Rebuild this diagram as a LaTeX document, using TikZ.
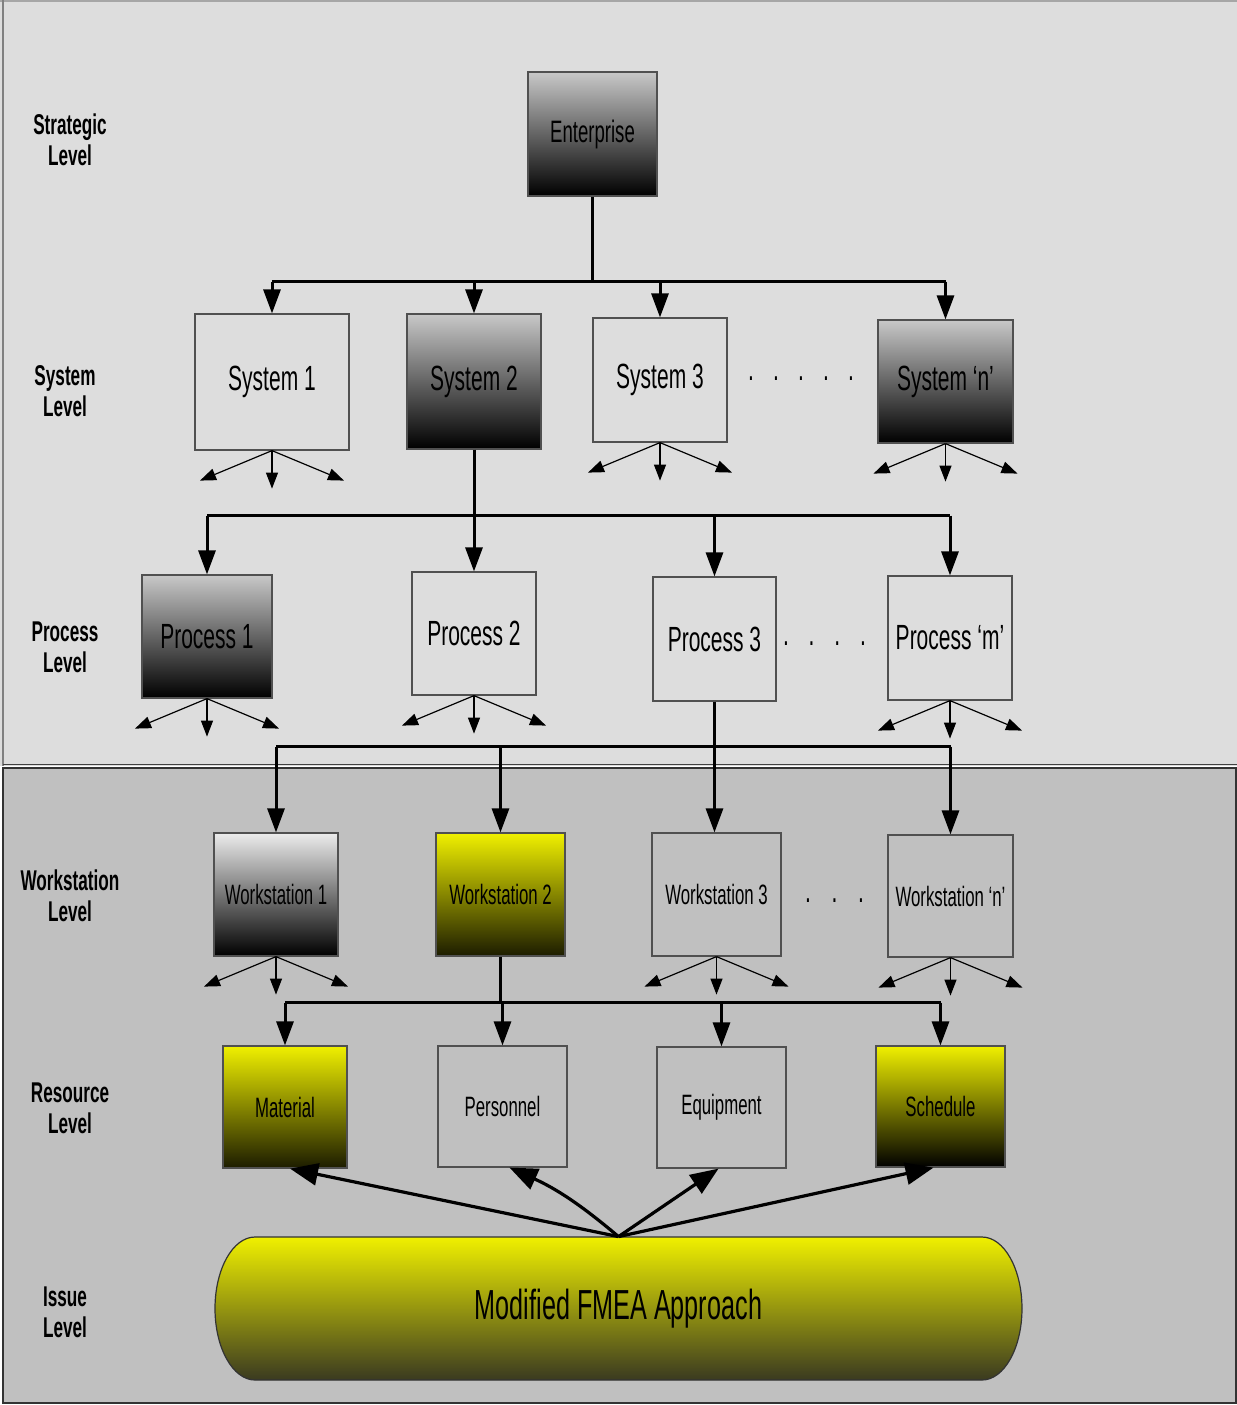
\documentclass[tikz,border=0pt]{standalone}
\usepackage{fontspec}
\setmainfont{Liberation Sans}[FakeStretch=0.6]
\usetikzlibrary{arrows.meta,calc}
\definecolor{bgup}{HTML}{DDDDDD}
\definecolor{bglow}{HTML}{C0C0C0}
\definecolor{bord}{HTML}{505050}
\definecolor{yel}{HTML}{F0F000}
\definecolor{ydark}{HTML}{1C1C00}
\definecolor{gtop}{HTML}{C8C8C8}
\definecolor{fbot}{HTML}{3A3A20}
\newcommand\dd[1]{\makebox[#1]{.}}
\begin{document}
\begin{tikzpicture}[x=0.5pt,y=-0.5pt,
 box/.style={draw=bord, line width=0.6pt, inner sep=0pt, align=center},
 graybox/.style={box, top color=gtop, bottom color=black},
 yelbox/.style={box, top color=yel, bottom color=ydark},
 big/.style={font=\fontsize{17.5}{20}\selectfont},
 med/.style={font=\fontsize{15.5}{18}\selectfont},
 small/.style={font=\fontsize{14}{16}\selectfont},
 lvl/.style={align=center, font=\bfseries\fontsize{14.3}{15.5}\selectfont},
 link/.style={line width=1.5pt},
 arr/.style={link, -{Triangle[length=12pt,width=8.5pt]}},
 fan/.style={line width=0.6pt, -{Triangle[length=8pt,width=6pt]}},
 bigarr/.style={line width=1.6pt, -{Triangle[length=14pt,width=11pt]}},
]
\useasboundingbox (0,0) rectangle (1237,1405);
% panels
\fill[bgup] (0,0) rectangle (1237,766);
\draw[gray!70, line width=0.6pt] (0,1) -- (1237,1);
\draw[gray, line width=1pt] (3,0) -- (3,766);
\draw[black!75, line width=0.6pt] (3,764.5) -- (1237,764.5);
\draw[fill=bglow, draw=black!80, line width=0.8pt] (3,768) rectangle (1236,1403);

% level labels
\node[lvl] (lv1) at (70,140) {Strategic\\Level};
\node[lvl] (lv2) at (65,391) {System\\Level};
\node[lvl] (lv3) at (65,647) {Process\\Level};
\node[lvl] (lv4) at (70,896) {Workstation\\Level};
\node[lvl] (lv5) at (70,1108) {Resource\\Level};
\node[lvl] (lv6) at (65,1312) {Issue\\Level};

% strategic
\node[graybox, med, minimum width=64.5pt, minimum height=62pt] (ent) at (592.5,134) {Enterprise};
% systems
\node[box, big, minimum width=77pt, minimum height=68pt] (s1) at (272,382) {System 1};
\node[graybox, big, minimum width=67pt, minimum height=67.5pt] (s2) at (474,381.5) {System 2};
\node[box, big, minimum width=67pt, minimum height=62pt] (s3) at (660,380) {System 3};
\node[graybox, big, minimum width=67.5pt, minimum height=61.5pt] (sn) at (945.5,381.5) {System `n'};
\node[big, anchor=base, inner sep=0pt] (d1) at (801,380) {\dd{12.5pt}\dd{12.5pt}\dd{12.5pt}\dd{12.5pt}\dd{12.5pt}};
% processes
\node[graybox, big, minimum width=65pt, minimum height=61.5pt] (p1) at (207,636.5) {Process 1};
\node[box, big, minimum width=62pt, minimum height=61.5pt] (p2) at (474,633.5) {Process 2};
\node[box, big, minimum width=61.5pt, minimum height=62pt] (p3) at (714.5,639) {Process 3};
\node[box, big, minimum width=62pt, minimum height=62pt] (pm) at (950,638) {Process `m'};
\node[big, anchor=base, inner sep=0pt] (d2) at (824.5,645) {\dd{12.85pt}\dd{12.85pt}\dd{12.85pt}\dd{12.85pt}};
% workstations
\node[graybox, small, top color=gray!15, minimum width=62pt, minimum height=61.5pt] (w1) at (276,894.5) {Workstation 1};
\node[yelbox, small, minimum width=64.5pt, minimum height=61.5pt] (w2) at (500.5,894.5) {Workstation 2};
\node[box, small, minimum width=64.5pt, minimum height=61.5pt] (w3) at (716.5,894.5) {Workstation 3};
\node[box, small, minimum width=62.5pt, minimum height=61pt] (wn) at (950.5,896) {Workstation `n'};
\node[big, anchor=base, inner sep=0pt] (d3) at (834.5,902) {\dd{13.25pt}\dd{13.25pt}\dd{13.25pt}};
% resources
\node[yelbox, small, minimum width=62pt, minimum height=61pt] (mat) at (285,1107) {Material};
\node[box, small, minimum width=64.5pt, minimum height=60.5pt] (per) at (502.5,1106.5) {Personnel};
\node[box, small, minimum width=64.5pt, minimum height=60.5pt] (equ) at (721.5,1107.5) {Equipment};
\node[box, small, top color=yel, bottom color=black, minimum width=64.5pt, minimum height=60.5pt] (sch) at (940.5,1106.5) {Schedule};

% issue level
\path[draw=black!80, line width=0.6pt, top color=yel, bottom color=fbot]
  (255,1237) -- (982,1237) arc[start angle=-90, end angle=90, x radius=40, y radius=71.5]
  -- (255,1380) arc[start angle=90, end angle=270, x radius=40, y radius=71.5] -- cycle;
\node[minimum width=403.5pt, minimum height=71.5pt, inner sep=0pt, font=\fontsize{21}{24}\selectfont] (fmea) at (618.5,1308.5) {Modified FMEA Approach};

% connectors: enterprise -> systems
\draw[link] (ent.south) -- ++(0,85) coordinate (e1);
\draw[link] (s1.north |- e1) -- (sn.north |- e1);
\foreach \n in {s1,s2,s3,sn} \draw[arr] (\n.north |- e1) -- (\n.north);
% system 2 -> processes
\draw[link] (s2.south) -- ++(0,66) coordinate (e2);
\draw[link] (p1.north |- e2) -- (pm.north |- e2);
\foreach \n in {p1,p2,p3,pm} \draw[arr] (\n.north |- e2) -- (\n.north);
% process 3 -> workstations
\draw[arr] (p3.south) -- (p3.south |- w3.north);
\path (p3.south) ++(0,45) coordinate (e3);
\draw[link] (w1.north |- e3) -- (wn.north |- e3);
\foreach \n in {w1,w2,wn} \draw[arr] (\n.north |- e3) -- (\n.north);
% workstation 2 -> resources
\draw[link] (w2.south) -- ++(0,46) coordinate (e4);
\draw[link] (mat.north |- e4) -- (sch.north |- e4);
\foreach \n in {mat,per,equ,sch} \draw[arr] (\n.north |- e4) -- (\n.north);
% fans
\foreach \n in {s1,s3,sn,p1,p2,pm,w1,w3,wn} {
  \draw[fan] (\n.south) -- ++(-72,30);
  \draw[fan] (\n.south) -- ++(0,38);
  \draw[fan] (\n.south) -- ++(72,30);
}
% FMEA -> resources
\draw[bigarr] (fmea.north) -- ($(mat.south)+(5,0)$);
\draw[bigarr] (fmea.north) to[bend right=8] ($(per.south)+(7,0)$);
\draw[bigarr] (fmea.north) -- ($(equ.south)+(-3,0)$);
\draw[bigarr] (fmea.north) -- ($(sch.south)+(-7,0)$);
\end{tikzpicture}
\end{document}
